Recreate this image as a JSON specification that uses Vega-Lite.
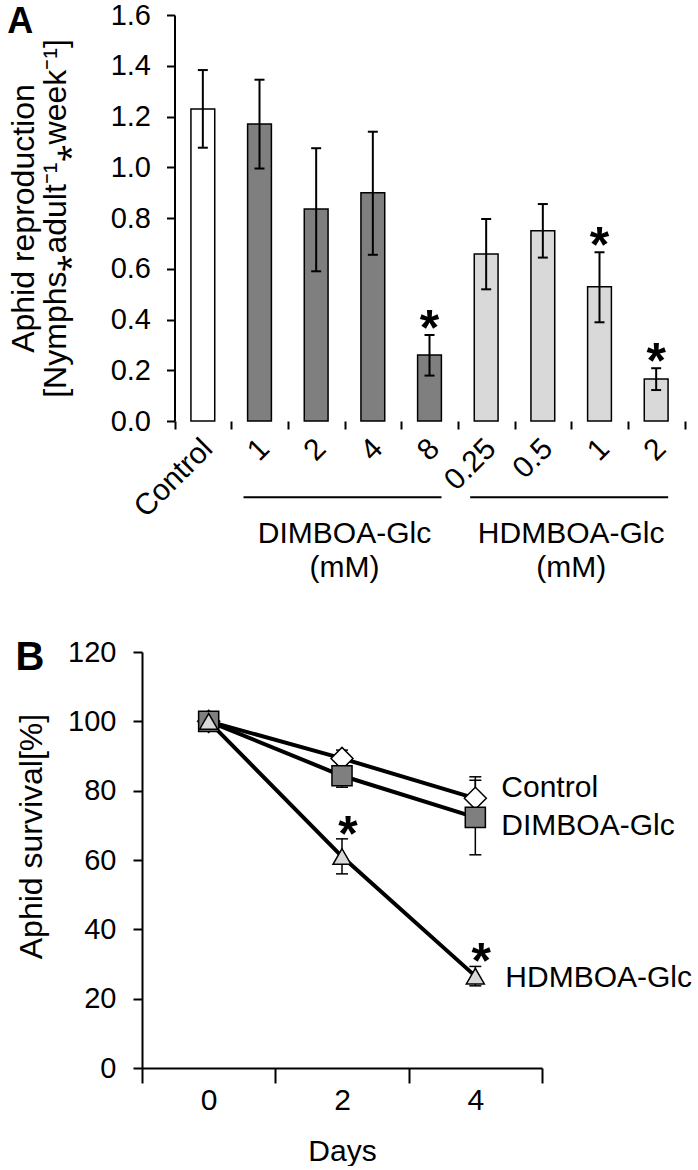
{
  "$schema": "https://vega.github.io/schema/vega-lite/v6.json",
  "padding": {"left": 7, "top": 1, "right": 0, "bottom": 0},
  "background": "white",
  "config": {
    "font": "Liberation Sans",
    "view": {"stroke": null},
    "axis": {"grid": false, "domainColor": "black", "tickColor": "black", "labelColor": "black", "titleColor": "black", "domainWidth": 2, "tickWidth": 2, "labelFont": "Liberation Sans", "titleFont": "Liberation Sans", "titleFontWeight": "normal"},
    "title": {"font": "Liberation Sans", "fontWeight": "bold", "color": "black"}
  },
  "datasets": {
    "bars": [
      {"cat": "Control", "grp": "Control", "mean": 1.23, "lo": 1.077, "hi": 1.383, "sig": false},
      {"cat": "D1", "grp": "DIMBOA-Glc", "mean": 1.17, "lo": 0.995, "hi": 1.345, "sig": false},
      {"cat": "D2", "grp": "DIMBOA-Glc", "mean": 0.835, "lo": 0.59, "hi": 1.075, "sig": false},
      {"cat": "D4", "grp": "DIMBOA-Glc", "mean": 0.9, "lo": 0.655, "hi": 1.14, "sig": false},
      {"cat": "D8", "grp": "DIMBOA-Glc", "mean": 0.26, "lo": 0.179, "hi": 0.339, "sig": true},
      {"cat": "H0.25", "grp": "HDMBOA-Glc", "mean": 0.658, "lo": 0.519, "hi": 0.796, "sig": false},
      {"cat": "H0.5", "grp": "HDMBOA-Glc", "mean": 0.75, "lo": 0.644, "hi": 0.855, "sig": false},
      {"cat": "H1", "grp": "HDMBOA-Glc", "mean": 0.529, "lo": 0.389, "hi": 0.665, "sig": true},
      {"cat": "H2", "grp": "HDMBOA-Glc", "mean": 0.166, "lo": 0.122, "hi": 0.208, "sig": true}
    ],
    "groups": [
      {"from": "D1", "to": "D8", "mid": "D4", "label": "DIMBOA-Glc\n(mM)"},
      {"from": "H0.25", "to": "H2", "mid": "H1", "label": "HDMBOA-Glc\n(mM)"}
    ],
    "surv": [
      {"series": "Control", "day": 0, "val": 100, "lo": 99, "hi": 101, "sig": false},
      {"series": "Control", "day": 2, "val": 89.3, "lo": 86.9, "hi": 91.7, "sig": false},
      {"series": "Control", "day": 4, "val": 77.8, "lo": 71.6, "hi": 84, "sig": false},
      {"series": "DIMBOA-Glc", "day": 0, "val": 100, "lo": 99, "hi": 101, "sig": false},
      {"series": "DIMBOA-Glc", "day": 2, "val": 84.3, "lo": 81, "hi": 87.6, "sig": false},
      {"series": "DIMBOA-Glc", "day": 4, "val": 72.3, "lo": 61.5, "hi": 83, "sig": false},
      {"series": "HDMBOA-Glc", "day": 0, "val": 100, "lo": 99, "hi": 101, "sig": false},
      {"series": "HDMBOA-Glc", "day": 2, "val": 61, "lo": 56, "hi": 66.1, "sig": true},
      {"series": "HDMBOA-Glc", "day": 4, "val": 26.5, "lo": 23.7, "hi": 29.3, "sig": true}
    ]
  },
  "spacing": 55,
  "vconcat": [
    {
      "width": 542.5,
      "height": 406,
      "title": {"text": "A", "anchor": "start", "frame": "bounds", "fontSize": 36, "baseline": "top", "offset": -40},
      "layer": [
        {
          "data": {"name": "bars"},
          "mark": {"type": "bar", "width": {"band": 0.42}, "stroke": "black", "strokeWidth": 1.5},
          "encoding": {
            "x": {"field": "cat", "type": "nominal", "sort": null,
              "scale": {"domain": ["Control", "D1", "D2", "D4", "D8", "H0.25", "H0.5", "H1", "H2"], "paddingInner": 0, "paddingOuter": 0.2868, "align": 1},
              "axis": {"title": null, "domain": false, "labelAngle": -45, "labelFontSize": 30, "tickSize": 8, "tickBand": "extent", "labelPadding": 4, "labelOffset": -6,
                "labelExpr": "datum.value == null ? '' : replace(replace(datum.value, 'D', ''), 'H', '')"}},
            "y": {"field": "mean", "type": "quantitative",
              "scale": {"domain": [0, 1.6], "nice": false},
              "axis": {"offset": -32.5, "values": [0, 0.2, 0.4, 0.6, 0.8, 1.0, 1.2, 1.4, 1.6], "format": ".1f", "labelFontSize": 29, "tickSize": 8, "labelPadding": 16,
                "title": ["Aphid reproduction", "[Nymphs⁎adult⁻¹⁎week⁻¹]"], "titleFontSize": 32, "titleLineHeight": 32, "titlePadding": 38}},
            "fill": {"field": "grp", "type": "nominal", "scale": {"domain": ["Control", "DIMBOA-Glc", "HDMBOA-Glc"], "range": ["#ffffff", "#7f7f7f", "#d9d9d9"]}, "legend": null}
          }
        },
        {
          "data": {"name": "bars"},
          "mark": {"type": "rule", "strokeWidth": 2, "color": "black"},
          "encoding": {
            "x": {"field": "cat", "type": "nominal"},
            "y": {"field": "lo", "type": "quantitative"},
            "y2": {"field": "hi"}
          }
        },
        {
          "data": {"name": "bars"},
          "mark": {"type": "tick", "size": 10, "thickness": 2, "color": "black", "opacity": 1},
          "encoding": {
            "x": {"field": "cat", "type": "nominal"},
            "y": {"field": "lo", "type": "quantitative"}
          }
        },
        {
          "data": {"name": "bars"},
          "mark": {"type": "tick", "size": 10, "thickness": 2, "color": "black", "opacity": 1},
          "encoding": {
            "x": {"field": "cat", "type": "nominal"},
            "y": {"field": "hi", "type": "quantitative"}
          }
        },
        {
          "data": {"name": "bars"},
          "transform": [{"filter": "datum.sig"}],
          "mark": {"type": "text", "text": "*", "fontSize": 50, "fontWeight": "bold", "baseline": "alphabetic", "dy": 10, "color": "black"},
          "encoding": {
            "x": {"field": "cat", "type": "nominal"},
            "y": {"field": "hi", "type": "quantitative"}
          }
        },
        {
          "mark": {"type": "rule", "strokeWidth": 2, "color": "black", "xOffset": -28.33, "x2Offset": 28.33},
          "encoding": {
            "x": {"datum": "Control", "type": "nominal"},
            "x2": {"datum": "H2"},
            "y": {"datum": 0, "type": "quantitative"}
          }
        },
        {
          "data": {"name": "groups"},
          "mark": {"type": "rule", "strokeWidth": 2, "color": "black", "xOffset": -16, "x2Offset": 12},
          "encoding": {
            "x": {"field": "from", "type": "nominal"},
            "x2": {"field": "to"},
            "y": {"datum": -0.3, "type": "quantitative"}
          }
        },
        {
          "data": {"name": "groups"},
          "mark": {"type": "text", "fontSize": 30, "lineBreak": "\n", "lineHeight": 34, "baseline": "middle", "align": "center", "color": "black"},
          "encoding": {
            "x": {"field": "mid", "type": "nominal", "bandPosition": 0},
            "y": {"datum": -0.445, "type": "quantitative"},
            "text": {"field": "label"}
          }
        }
      ]
    },
    {
      "width": 400,
      "height": 416,
      "title": {"text": "B", "anchor": "start", "frame": "bounds", "fontSize": 40, "baseline": "top", "offset": -40},
      "data": {"name": "surv"},
      "layer": [
        {
          "mark": {"type": "rule", "strokeWidth": 1.5, "color": "black"},
          "encoding": {
            "x": {"field": "day", "type": "ordinal",
              "scale": {"domain": [0, 2, 4], "paddingInner": 0, "paddingOuter": 0},
              "axis": {"title": "Days", "titleFontSize": 30, "titlePadding": 21, "labelAngle": 0, "labelFontSize": 30, "tickSize": 15, "tickBand": "extent", "labelPadding": 2,
                "labelExpr": "datum.value == null ? '' : datum.label"}},
            "y": {"field": "lo", "type": "quantitative",
              "scale": {"domain": [0, 120], "nice": false},
              "axis": {"values": [0, 20, 40, 60, 80, 100, 120], "labelFontSize": 29, "tickSize": 9, "labelPadding": 17,
                "title": "Aphid survival[%]", "titleFontSize": 32, "titlePadding": 19, "titleY": 184}},
            "y2": {"field": "hi"}
          }
        },
        {
          "mark": {"type": "tick", "size": 12, "thickness": 1.5, "color": "black", "opacity": 1},
          "encoding": {
            "x": {"field": "day", "type": "ordinal"},
            "y": {"field": "lo", "type": "quantitative"}
          }
        },
        {
          "mark": {"type": "tick", "size": 12, "thickness": 1.5, "color": "black", "opacity": 1},
          "encoding": {
            "x": {"field": "day", "type": "ordinal"},
            "y": {"field": "hi", "type": "quantitative"}
          }
        },
        {
          "mark": {"type": "line", "color": "black"},
          "encoding": {
            "x": {"field": "day", "type": "ordinal"},
            "y": {"field": "val", "type": "quantitative"},
            "detail": {"field": "series"},
            "strokeWidth": {"field": "series", "type": "nominal", "scale": {"domain": ["Control", "DIMBOA-Glc", "HDMBOA-Glc"], "range": [4, 4, 3]}, "legend": null}
          }
        },
        {
          "mark": {"type": "point", "filled": true, "stroke": "black", "strokeWidth": 1.5, "opacity": 1},
          "encoding": {
            "x": {"field": "day", "type": "ordinal"},
            "y": {"field": "val", "type": "quantitative"},
            "shape": {"field": "series", "type": "nominal", "scale": {"domain": ["Control", "DIMBOA-Glc", "HDMBOA-Glc"], "range": ["diamond", "square", "triangle-up"]}, "legend": null},
            "fill": {"field": "series", "type": "nominal", "scale": {"domain": ["Control", "DIMBOA-Glc", "HDMBOA-Glc"], "range": ["#ffffff", "#7f7f7f", "#d9d9d9"]}, "legend": null},
            "size": {"field": "series", "type": "nominal", "scale": {"domain": ["Control", "DIMBOA-Glc", "HDMBOA-Glc"], "range": [484, 324, 484]}, "legend": null}
          }
        },
        {
          "transform": [{"filter": "datum.sig"}],
          "mark": {"type": "text", "text": "*", "fontSize": 50, "fontWeight": "bold", "baseline": "alphabetic", "dy": 12, "dx": 6, "color": "black"},
          "encoding": {
            "x": {"field": "day", "type": "ordinal"},
            "y": {"field": "hi", "type": "quantitative"}
          }
        },
        {
          "transform": [{"filter": "datum.day == 4 && datum.series == 'Control'"}],
          "mark": {"type": "text", "fontSize": 30, "align": "left", "baseline": "middle", "dx": 26, "dy": -10, "color": "black"},
          "encoding": {
            "x": {"field": "day", "type": "ordinal"},
            "y": {"field": "val", "type": "quantitative"},
            "text": {"field": "series"}
          }
        },
        {
          "transform": [{"filter": "datum.day == 4 && datum.series == 'DIMBOA-Glc'"}],
          "mark": {"type": "text", "fontSize": 30, "align": "left", "baseline": "middle", "dx": 26, "dy": 9, "color": "black"},
          "encoding": {
            "x": {"field": "day", "type": "ordinal"},
            "y": {"field": "val", "type": "quantitative"},
            "text": {"field": "series"}
          }
        },
        {
          "transform": [{"filter": "datum.day == 4 && datum.series == 'HDMBOA-Glc'"}],
          "mark": {"type": "text", "fontSize": 30, "align": "left", "baseline": "middle", "dx": 30, "dy": 2, "color": "black"},
          "encoding": {
            "x": {"field": "day", "type": "ordinal"},
            "y": {"field": "val", "type": "quantitative"},
            "text": {"field": "series"}
          }
        }
      ]
    }
  ]
}
